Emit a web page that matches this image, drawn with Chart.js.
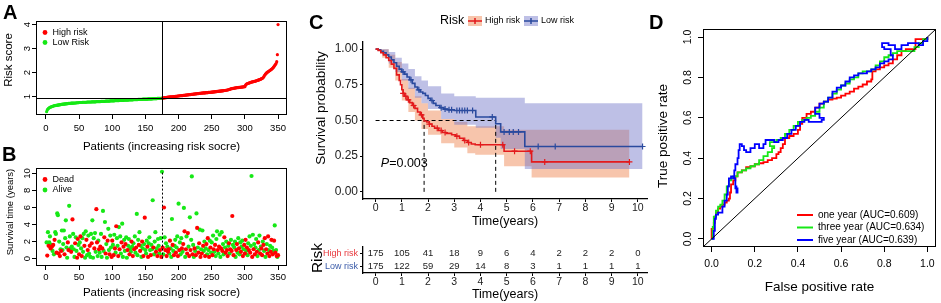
<!DOCTYPE html>
<html>
<head>
<meta charset="utf-8">
<script src="https://cdn.jsdelivr.net/npm/chart.js@4.4.1/dist/chart.umd.min.js"></script>
<style>
html,body{margin:0;padding:0;background:#fff;}
#wrap{position:relative;width:941px;height:303px;overflow:hidden;background:#fff;}
#wrap canvas{position:absolute;}
.pl{position:absolute;font-family:"Liberation Sans",Arial,sans-serif;font-weight:bold;font-size:20px;line-height:20px;color:#000;}
</style>
</head>
<body>
<div id="wrap">
  <canvas id="cA" width="300" height="160" style="left:0px;top:0px;"></canvas>
  <canvas id="cB" width="300" height="163" style="left:0px;top:140px;"></canvas>
  <canvas id="cC" width="360" height="232" style="left:300px;top:0px;"></canvas>
  <canvas id="cT" width="360" height="73" style="left:300px;top:230px;"></canvas>
  <canvas id="cD" width="291" height="303" style="left:650px;top:0px;"></canvas>
  <div class="pl" style="left:3px;top:2px;">A</div>
  <div class="pl" style="left:2px;top:144px;">B</div>
  <div class="pl" style="left:309px;top:12px;">C</div>
  <div class="pl" style="left:649px;top:12px;">D</div>
</div>
<script>
// ================= DATA =================
// Panel A / B
const patientTicks = [0, 50, 100, 150, 200, 250, 300, 350];
const riskScoreTicks = [1, 2, 3, 4];
const survTimeTicks = [0, 2, 4, 6, 8, 10];
const nLowRisk = 175;
const riskCutoff = 0.93;
const riskScore = [
  0.38,0.45,0.49,0.52,0.54,
  0.56,0.57,0.58,0.59,0.60,0.61,0.62,
  0.63,0.63,0.64,0.64,0.65,0.65,0.66,0.66,0.67,0.67,0.68,0.68,0.69,
  0.69,0.69,0.70,0.70,0.70,0.71,0.71,0.71,0.72,0.72,0.72,0.72,0.73,0.73,0.73,0.73,0.74,0.74,0.74,0.74,0.75,0.75,0.75,0.75,0.76,
  0.76,0.76,0.76,0.76,0.77,0.77,0.77,0.77,0.77,0.77,0.77,0.78,0.78,0.78,0.78,0.78,0.78,0.78,0.79,0.79,0.79,0.79,0.79,0.79,0.79,
  0.80,0.80,0.80,0.80,0.80,0.80,0.80,0.81,0.81,0.81,0.81,0.81,0.81,0.81,0.82,0.82,0.82,0.82,0.82,0.82,0.82,0.83,0.83,0.83,0.83,
  0.83,0.83,0.83,0.84,0.84,0.84,0.84,0.84,0.84,0.84,0.85,0.85,0.85,0.85,0.85,0.85,0.85,0.86,0.86,0.86,0.86,0.86,0.86,0.86,
  0.87,0.87,0.87,0.87,0.87,0.87,0.87,0.88,0.88,0.88,0.88,0.88,0.88,0.88,0.89,0.89,0.89,0.89,0.89,0.89,0.89,0.90,0.90,0.90,0.90,0.90,
  0.90,0.90,0.90,0.91,0.91,0.91,0.91,0.91,0.91,0.91,0.92,0.92,0.92,0.92,0.92,0.92,0.92,0.93,0.93,0.93,0.93,0.93,0.93,0.93,
  0.94,0.94,0.95,0.95,0.96,0.96,0.96,0.97,0.97,0.98,0.98,0.98,0.99,0.99,1.00,1.00,1.00,1.01,1.01,1.01,1.02,1.02,1.02,1.03,1.03,1.03,
  1.04,1.04,1.04,1.05,1.05,1.05,1.06,1.06,1.06,1.07,1.07,1.07,1.08,1.08,1.08,1.09,1.09,1.09,1.10,1.10,1.10,1.11,1.11,1.11,1.12,
  1.12,1.12,1.13,1.13,1.13,1.14,1.14,1.14,1.15,1.15,1.15,1.16,1.16,1.16,1.16,1.17,1.17,1.17,1.17,1.18,1.18,1.18,1.18,1.19,1.19,
  1.19,1.20,1.20,1.20,1.21,1.21,1.21,1.22,1.22,1.22,1.23,1.23,1.23,1.24,1.24,1.24,1.25,1.25,1.26,1.26,1.27,1.27,1.28,1.28,1.29,
  1.30,1.31,1.32,1.33,1.34,1.34,1.35,1.35,1.36,1.36,1.37,1.37,1.38,1.38,1.38,1.39,1.39,1.39,1.40,1.40,1.40,1.41,1.41,1.42,1.42,
  1.48,1.52,1.54,1.55,1.56,1.57,1.58,1.59,1.60,1.61,1.62,1.62,1.63,1.64,1.64,1.65,
  1.66,1.67,1.68,1.69,1.70,1.71,1.72,1.73,1.75,1.76,1.78,1.81,1.86,1.90,
  1.94,1.97,2.00,2.02,2.04,2.06,2.08,2.10,2.12,2.14,2.16,2.19,2.22,2.26,2.30,
  2.34,2.38,2.46,2.75,4.00
];
const survTime = [
  1.9,0.35,3.1,1.5,1.9,2.6,1.2,1.6,1.4,0.9,
  1.6,0.5,2.2,3.1,2.9,0.7,5.3,5.1,0.6,2.0,
  0.3,1.1,0.9,3.3,1.0,1.7,3.3,0.5,2.4,4.5,
  1.3,0.1,1.9,1.0,6.2,2.6,1.2,0.8,1.4,4.6,
  2.9,1.1,0.2,1.8,2.5,0.9,0.1,2.3,1.6,0.5,
  1.9,2.6,1.2,0.3,2.4,0.8,2.9,1.5,0.1,3.2,
  2.2,0.4,1.0,2.7,0.6,1.5,0.2,2.9,1.8,4.5,
  0.1,2.4,1.2,3.0,0.8,5.8,1.9,0.3,2.1,1.1,
  0.7,1.4,2.9,0.2,1.2,5.6,0.9,2.5,4.3,0.6,
  1.7,0.1,2.1,3.5,1.0,0.5,2.7,1.3,0.2,2.1,
  1.6,0.4,2.8,1.2,0.7,3.8,2.4,1.5,0.3,3.7,
  1.1,2.6,0.6,1.9,4.1,0.2,1.4,2.2,0.9,1.7,
  2.5,0.1,1.0,1.5,2.3,0.5,1.2,0.8,2.0,1.4,
  0.3,1.8,1.1,2.6,0.7,1.3,5.25,0.4,2.2,1.6,
  3.1,0.9,1.5,0.2,2.0,1.2,0.3,1.7,4.8,1.0,
  0.6,2.1,1.4,0.2,1.8,2.5,1.0,0.4,1.6,1.1,
  6.85,1.3,0.5,2.0,3.1,0.8,1.2,0.3,2.3,1.5,
  0.6,1.0,2.4,0.2,10.2,
  1.3,0.5,6.0,2.5,1.0,1.8,0.3,1.4,0.8,1.1,
  0.6,2.1,1.2,0.2,4.65,1.6,0.9,0.4,1.5,2.2,
  0.7,1.3,2.6,0.3,6.45,1.0,1.9,0.5,2.4,1.2,
  0.8,1.7,5.95,3.2,0.2,1.1,2.6,0.6,3.0,1.4,
  0.3,4.85,1.0,2.2,9.65,0.5,1.6,0.2,1.2,0.9,
  0.4,5.3,3.6,1.3,0.7,1.8,3.4,0.2,1.1,0.6,
  3.3,1.5,0.9,2.0,0.3,1.2,1.7,0.5,2.4,1.0,
  0.2,2.1,1.3,0.7,1.9,0.4,2.7,1.1,0.8,1.6,
  0.3,2.3,3.2,1.0,0.6,1.4,2.8,0.2,1.2,3.1,
  0.9,1.7,0.5,2.5,1.3,0.7,2.0,1.0,0.3,1.5,
  1.8,0.6,1.1,2.2,0.9,5.0,1.6,0.4,1.3,2.0,
  0.2,1.0,1.7,0.7,2.4,1.2,0.5,1.9,0.8,1.4,
  2.1,0.3,1.1,1.6,0.6,2.2,0.9,1.3,0.4,1.8,
  1.0,2.6,0.7,1.5,9.7,0.2,2.8,1.1,1.7,0.5,
  1.3,2.3,0.8,0.3,1.9,1.0,2.7,0.6,1.4,1.2,
  0.4,2.0,1.6,0.9,2.4,0.2,1.1,1.7,0.6,2.6,
  1.0,0.3,1.5,0.8,2.2,1.3,0.5,0.9,2.1,3.9,
  0.7,1.0,0.3,0.2,0.4
];
// 1 = dead, 0 = alive
const survStatus = [
  0,1,0,1,0,0,1,0,1,0, 1,0,1,0,0,1,0,0,1,0, 1,0,1,0,0,0,0,1,0,0, 0,0,1,1,0,0,0,1,0,1,
  0,0,0,1,0,0,1,1,0,1, 0,1,0,1,0,0,0,1,0,0, 1,0,1,0,0,1,0,0,1,0, 0,0,1,0,0,1,1,0,0,1,
  0,1,0,0,1,0,0,1,0,1, 0,0,1,0,0,1,0,0,1,1, 0,1,0,1,0,1,0,0,1,0, 1,0,0,1,0,0,1,0,0,1,
  0,0,1,0,0,1,0,0,1,0, 1,0,1,0,0,1,0,0,0,1, 0,1,0,0,1,0,1,0,1,0, 0,0,1,1,0,0,0,1,0,0,
  0,1,0,0,0,1,0,1,0,0, 0,1,0,1,0,
  1,0,1,0,1,0,1,0,1,1, 0,1,0,0,0,1,0,1,0,0, 1,0,0,1,0,1,0,0,0,1, 0,1,0,1,0,1,0,1,1,0,
  1,0,1,0,0,1,0,0,1,0, 1,0,1,0,1,1,0,1,0,1, 0,1,0,0,1,0,1,0,1,0, 1,0,1,0,0,1,0,1,0,1,
  0,0,0,1,0,1,0,0,1,0, 1,0,0,1,0,1,0,1,1,0, 1,0,1,0,1,1,0,1,0,0, 0,1,1,0,0,1,0,0,1,0,
  0,1,0,1,1,1,0,1,0,0, 1,0,1,0,0,1,0,1,0,1, 0,0,1,0,1,0,0,1,0,1, 1,0,1,0,1,0,1,0,1,1,
  0,1,0,1,1,0,1,0,1,0, 1,0,1,0,1
];

// Panel C
const kmTimeTicks = [0,1,2,3,4,5,6,7,8,9,10];
const survProbTicks = [0, 0.25, 0.5, 0.75, 1];
const highTime = [0,0.1,0.2,0.3,0.4,0.5,0.6,0.7,0.8,0.9,0.95,1.0,1.05,1.1,1.2,1.3,1.4,1.5,1.6,1.7,1.8,1.85,1.95,2.05,2.15,2.25,2.4,2.55,2.7,2.9,3.05,3.2,3.35,3.5,3.65,3.8,4.9,5.95,9.68];
const highSurv = [1,0.99,0.975,0.96,0.94,0.92,0.895,0.865,0.82,0.78,0.75,0.715,0.69,0.67,0.645,0.625,0.605,0.585,0.56,0.54,0.515,0.497,0.49,0.475,0.46,0.446,0.43,0.416,0.41,0.40,0.39,0.376,0.36,0.346,0.335,0.33,0.285,0.21,0.21];
const lowTime = [0,0.1,0.2,0.3,0.4,0.5,0.6,0.7,0.8,0.9,1.0,1.1,1.2,1.3,1.4,1.5,1.6,1.7,1.8,1.9,2.0,2.1,2.2,2.3,2.45,2.6,2.75,3.0,3.82,4.58,4.77,5.69,10.18];
const lowSurv = [1,0.995,0.985,0.975,0.96,0.945,0.925,0.905,0.88,0.86,0.84,0.825,0.805,0.785,0.76,0.735,0.715,0.70,0.69,0.675,0.655,0.64,0.62,0.605,0.59,0.58,0.575,0.57,0.525,0.477,0.42,0.318,0.318];
const highBandTime = [0,0.25,0.5,0.75,1.0,1.25,1.5,1.75,2.0,2.5,3.0,3.5,3.8,4.9,5.95,9.68];
const highBandLo = [1,0.94,0.87,0.78,0.64,0.56,0.50,0.44,0.40,0.34,0.31,0.27,0.26,0.18,0.10,0.10];
const highBandHi = [1,1.0,0.96,0.91,0.79,0.73,0.67,0.62,0.57,0.51,0.49,0.46,0.46,0.435,0.435,0.435];
const lowBandTime = [0,0.25,0.5,0.75,1.0,1.25,1.5,1.75,2.0,2.5,3.0,3.82,4.58,4.77,5.69,10.18];
const lowBandLo = [1,0.96,0.90,0.84,0.78,0.72,0.66,0.62,0.58,0.51,0.47,0.45,0.38,0.30,0.16,0.16];
const lowBandHi = [1,1.0,0.98,0.94,0.90,0.86,0.81,0.78,0.74,0.69,0.67,0.66,0.66,0.66,0.62,0.62];
const highCensorTime = [1.05,1.15,1.25,1.45,1.75,2.05,2.35,2.5,2.65,3.1,3.4,3.55,4.0,4.85,5.3,5.9,6.45,9.68];
const highCensorSurv = [0.69,0.67,0.645,0.605,0.54,0.475,0.446,0.43,0.416,0.39,0.36,0.346,0.33,0.33,0.285,0.285,0.21,0.21];
const lowCensorTime = [1.05,1.35,1.65,2.15,2.5,2.65,2.8,2.9,3.1,3.2,3.3,3.4,3.5,3.7,4.45,4.9,5.1,5.25,5.45,6.2,6.85,10.18];
const lowCensorSurv = [0.84,0.785,0.715,0.64,0.59,0.58,0.575,0.575,0.57,0.57,0.57,0.57,0.57,0.57,0.525,0.42,0.42,0.42,0.42,0.318,0.318,0.318];
const medianHigh = 1.85;
const medianLow = 4.58;
const pValue = '0.003';
const riskGroups = ['High risk', 'Low risk'];
const atRiskHigh = [175,105,41,18,9,6,4,2,2,2,0];
const atRiskLow = [175,122,59,29,14,8,3,1,1,1,1];

// Panel D
const rocTicks = [0, 0.2, 0.4, 0.6, 0.8, 1];
const rocLabels = ['one year (AUC=0.609)', 'three year (AUC=0.634)', 'five year (AUC=0.639)'];
const fprOne = [0,0,0.01,0.015,0.02,0.03,0.04,0.05,0.06,0.07,0.08,0.085,0.09,0.1,0.11,0.12,0.14,0.16,0.18,0.2,0.22,0.24,0.26,0.28,0.3,0.31,0.32,0.33,0.34,0.36,0.38,0.4,0.41,0.42,0.44,0.46,0.48,0.5,0.52,0.54,0.56,0.58,0.6,0.62,0.64,0.66,0.68,0.7,0.72,0.74,0.745,0.76,0.78,0.8,0.82,0.84,0.86,0.88,0.9,0.93,0.945,0.96,0.98,1.0];
const tprOne = [0,0.05,0.08,0.11,0.13,0.15,0.16,0.17,0.18,0.19,0.2,0.23,0.27,0.29,0.31,0.33,0.34,0.355,0.36,0.37,0.375,0.38,0.39,0.40,0.42,0.43,0.45,0.47,0.50,0.51,0.52,0.54,0.57,0.60,0.62,0.63,0.65,0.67,0.68,0.69,0.695,0.70,0.71,0.72,0.73,0.745,0.755,0.765,0.78,0.79,0.83,0.84,0.85,0.86,0.87,0.89,0.91,0.93,0.94,0.94,0.99,0.99,0.99,1.0];
const fprThree = [0,0.005,0.01,0.02,0.03,0.04,0.05,0.06,0.07,0.08,0.09,0.1,0.12,0.14,0.16,0.18,0.2,0.22,0.24,0.26,0.28,0.29,0.27,0.3,0.32,0.34,0.36,0.38,0.4,0.42,0.44,0.46,0.48,0.5,0.52,0.54,0.56,0.58,0.6,0.62,0.64,0.66,0.68,0.7,0.72,0.74,0.76,0.78,0.8,0.82,0.84,0.86,0.88,0.9,0.92,0.94,0.96,0.98,1.0];
const tprThree = [0,0.06,0.11,0.14,0.16,0.17,0.19,0.22,0.26,0.29,0.3,0.31,0.33,0.34,0.35,0.36,0.37,0.39,0.41,0.43,0.45,0.46,0.48,0.49,0.50,0.52,0.54,0.56,0.58,0.59,0.60,0.61,0.63,0.65,0.68,0.70,0.72,0.74,0.76,0.77,0.79,0.80,0.82,0.83,0.83,0.84,0.86,0.88,0.90,0.91,0.92,0.93,0.93,0.93,0.93,0.95,0.97,0.99,1.0];
const fprFive = [0,0.01,0.015,0.02,0.03,0.05,0.06,0.07,0.075,0.08,0.09,0.1,0.11,0.12,0.115,0.11,0.105,0.11,0.12,0.125,0.13,0.14,0.15,0.16,0.18,0.2,0.22,0.24,0.25,0.27,0.29,0.31,0.33,0.35,0.37,0.39,0.41,0.43,0.45,0.47,0.49,0.51,0.52,0.5,0.48,0.5,0.52,0.54,0.56,0.58,0.6,0.62,0.64,0.66,0.68,0.7,0.72,0.74,0.76,0.78,0.8,0.82,0.84,0.83,0.8,0.79,0.82,0.85,0.88,0.91,0.94,0.96,0.98,1.0];
const tprFive = [0,0.04,0.1,0.12,0.13,0.16,0.19,0.22,0.26,0.3,0.31,0.3,0.25,0.23,0.26,0.3,0.34,0.37,0.40,0.44,0.47,0.46,0.44,0.43,0.45,0.47,0.45,0.47,0.49,0.49,0.48,0.49,0.50,0.52,0.54,0.56,0.58,0.59,0.58,0.58,0.58,0.59,0.60,0.62,0.65,0.67,0.68,0.70,0.73,0.75,0.76,0.78,0.80,0.81,0.82,0.82,0.83,0.84,0.85,0.87,0.88,0.89,0.91,0.94,0.95,0.97,0.96,0.94,0.96,0.97,0.97,0.96,0.98,1.0];

// ================= STYLE / HELPERS =================
const FONT = '"Liberation Sans", Arial, Helvetica, sans-serif';
Chart.defaults.font.family = FONT;
Chart.defaults.color = '#000';
const R_RED = '#FF0000', R_GREEN = '#16E816', R_BLUE = '#0000FF';
const KM_RED = '#E31A1C', KM_BLUE = '#2A4A9E';
const KM_RED_BAND = 'rgba(240,140,90,0.5)', KM_BLUE_BAND = 'rgba(110,115,200,0.45)';

const pts = (xs, ys) => xs.map((v, i) => ({x: v, y: ys[i]}));
const setTicks = arr => s => { s.ticks = arr.map(v => ({value: v})); };
const gridTicks = tl => ({display: true, drawOnChartArea: false, drawTicks: true, tickLength: tl, color: '#000', lineWidth: 1});
const baseOpts = () => ({responsive: false, animation: false, devicePixelRatio: 1, events: []});

function framePlugin() {
  return {id: 'frame', afterDraw(ch) {
    const c = ch.ctx, a = ch.chartArea;
    const l = Math.round(a.left), t = Math.round(a.top), r = Math.round(a.right), b = Math.round(a.bottom);
    c.save(); c.strokeStyle = '#000'; c.lineWidth = 1;
    c.strokeRect(l + 0.5, t + 0.5, r - l - 1, b - t - 1);
    c.restore();
  }};
}
function rotYTicksPlugin(ticks, offset, size, fmt) {
  return {id: 'rotY', afterDraw(ch) {
    const c = ch.ctx, s = ch.scales.y;
    c.save(); c.font = size + 'px ' + FONT; c.fillStyle = '#000';
    c.textAlign = 'center'; c.textBaseline = 'middle';
    ticks.forEach(v => {
      const y = s.getPixelForValue(v);
      c.save(); c.translate(ch.chartArea.left - offset, y); c.rotate(-Math.PI / 2);
      c.fillText(fmt(v), 0, 0); c.restore();
    });
    c.restore();
  }};
}
function textsPlugin(items) {
  return {id: 'texts', afterDraw(ch) {
    const c = ch.ctx;
    items.forEach(it => {
      c.save(); c.font = it.font; c.fillStyle = it.color || '#000';
      c.textAlign = it.align || 'center'; c.textBaseline = 'middle';
      c.translate(it.x, it.y); if (it.rot) c.rotate(it.rot);
      c.fillText(it.text, 0, 0); c.restore();
    });
  }};
}
function dotLegendPlugin(items, x, y0, dy, size) {
  return {id: 'dotLegend', afterDraw(ch) {
    const c = ch.ctx;
    c.save(); c.font = size + 'px ' + FONT; c.textAlign = 'left'; c.textBaseline = 'middle';
    items.forEach((it, i) => {
      const y = y0 + i * dy;
      c.fillStyle = it.color; c.beginPath(); c.arc(x, y, 2.4, 0, Math.PI * 2); c.fill();
      c.fillStyle = '#000'; c.fillText(it.label, x + 7.5, y);
    });
    c.restore();
  }};
}
function guideLinesPlugin(opts) {
  return {id: 'guides', afterDatasetsDraw(ch) {
    const c = ch.ctx, a = ch.chartArea, xs = ch.scales.x, ys = ch.scales.y;
    c.save(); c.strokeStyle = '#000'; c.lineWidth = 1;
    if (opts.h != null) {
      const py = Math.round(ys.getPixelForValue(opts.h)) + 0.5;
      c.beginPath(); c.moveTo(a.left, py); c.lineTo(a.right, py); c.stroke();
    }
    if (opts.v != null) {
      const px = Math.round(xs.getPixelForValue(opts.v)) + 0.5;
      const y0 = opts.vFrom != null ? ys.getPixelForValue(opts.vFrom) : a.bottom;
      const y1 = opts.vTo != null ? ys.getPixelForValue(opts.vTo) : a.top;
      if (opts.dash) c.setLineDash(opts.dash);
      c.beginPath(); c.moveTo(px, y0); c.lineTo(px, y1); c.stroke();
    }
    c.restore();
  }};
}

// ================= PANEL A =================
new Chart(document.getElementById('cA'), {
  type: 'scatter',
  data: {datasets: [
    {label: 'High risk', data: riskScore.slice(nLowRisk).map((v, i) => ({x: nLowRisk + i + 1, y: v})),
     backgroundColor: R_RED, borderWidth: 0, pointRadius: 1.6},
    {label: 'Low Risk', data: riskScore.slice(0, nLowRisk).map((v, i) => ({x: i + 1, y: v})),
     backgroundColor: R_GREEN, borderWidth: 0, pointRadius: 1.6}
  ]},
  options: Object.assign(baseOpts(), {
    layout: {padding: {left: 0, top: 21, right: 13, bottom: 0}},
    scales: {
      x: {type: 'linear', min: -15, max: 363.5, afterBuildTicks: setTicks(patientTicks), afterFit: s => { s.height = 45; },
          grid: gridTicks(4), border: {display: false},
          ticks: {autoSkip: false, maxRotation: 0, padding: 3.5, font: {size: 9.5}, color: '#000'},
          title: {display: true, text: 'Patients (increasing risk socre)', font: {size: 11.5}, color: '#000', padding: {top: 0, bottom: 6}}},
      y: {type: 'linear', min: 0.24, max: 4.15, afterBuildTicks: setTicks(riskScoreTicks), afterFit: s => { s.width = 36; },
          grid: gridTicks(4), border: {display: false}, ticks: {display: false}}
    },
    plugins: {legend: {display: false}, tooltip: {enabled: false}}
  }),
  plugins: [framePlugin(), rotYTicksPlugin(riskScoreTicks, 9, 9.5, v => String(v)),
    guideLinesPlugin({h: riskCutoff, v: nLowRisk + 0.5}),
    dotLegendPlugin([{label: 'High risk', color: R_RED}, {label: 'Low Risk', color: R_GREEN}], 45, 32.5, 10, 9),
    textsPlugin([{text: 'Risk score', x: 9, y: 60, rot: -Math.PI / 2, font: '11.5px ' + FONT}])]
});

// ================= PANEL B =================
const deadPts = [], alivePts = [];
survTime.forEach((t, i) => { (survStatus[i] === 1 ? deadPts : alivePts).push({x: i + 1, y: t}); });
new Chart(document.getElementById('cB'), {
  type: 'scatter',
  data: {datasets: [
    {label: 'Dead', data: deadPts, backgroundColor: R_RED, borderWidth: 0, pointRadius: 2.1},
    {label: 'Alive', data: alivePts, backgroundColor: R_GREEN, borderWidth: 0, pointRadius: 2.1}
  ]},
  options: Object.assign(baseOpts(), {
    layout: {padding: {left: 0, top: 28, right: 13, bottom: 0}},
    scales: {
      x: {type: 'linear', min: -15, max: 363.5, afterBuildTicks: setTicks(patientTicks), afterFit: s => { s.height = 37; },
          grid: gridTicks(4), border: {display: false},
          ticks: {autoSkip: false, maxRotation: 0, padding: 1.7, font: {size: 9.5}, color: '#000'},
          title: {display: true, text: 'Patients (increasing risk socre)', font: {size: 11.5}, color: '#000', padding: {top: 0, bottom: 3}}},
      y: {type: 'linear', min: -0.87, max: 10.64, afterBuildTicks: setTicks(survTimeTicks), afterFit: s => { s.width = 36; },
          grid: gridTicks(4), border: {display: false}, ticks: {display: false}}
    },
    plugins: {legend: {display: false}, tooltip: {enabled: false}}
  }),
  plugins: [framePlugin(), rotYTicksPlugin(survTimeTicks, 9, 9.5, v => String(v)),
    guideLinesPlugin({v: nLowRisk + 0.5, vFrom: 0, vTo: Math.max(...survTime), dash: [2, 2]}),
    dotLegendPlugin([{label: 'Dead', color: R_RED}, {label: 'Alive', color: R_GREEN}], 45, 39.5, 10.5, 9),
    textsPlugin([{text: 'Survival time (years)', x: 10, y: 72, rot: -Math.PI / 2, font: '9.5px ' + FONT}])]
});

// ================= PANEL C (KM) =================
const kmLegendPlugin = {id: 'kmLegend', afterDraw(ch) {
  const c = ch.ctx, y = 21;
  c.save(); c.textAlign = 'left'; c.textBaseline = 'middle';
  c.font = '12.5px ' + FONT; c.fillStyle = '#000'; c.fillText('Risk', 140, y);
  [{x: 168, fill: KM_RED_BAND, col: KM_RED, label: riskGroups[0]}, {x: 224, fill: KM_BLUE_BAND, col: KM_BLUE, label: riskGroups[1]}].forEach(it => {
    c.fillStyle = it.fill; c.fillRect(it.x, y - 5, 14, 10);
    c.strokeStyle = it.col; c.lineWidth = 1.5;
    c.beginPath(); c.moveTo(it.x, y); c.lineTo(it.x + 14, y); c.moveTo(it.x + 7, y - 3); c.lineTo(it.x + 7, y + 3); c.stroke();
    c.fillStyle = '#000'; c.font = '9px ' + FONT; c.fillText(it.label, it.x + 17, y);
  });
  c.restore();
}};
const pValuePlugin = {id: 'pval', afterDraw(ch) {
  const c = ch.ctx, x = ch.scales.x.getPixelForValue(0.2), y = ch.scales.y.getPixelForValue(0.2);
  c.save(); c.textAlign = 'left'; c.textBaseline = 'middle'; c.fillStyle = '#000';
  c.font = 'italic 12.5px ' + FONT; c.fillText('P', x, y);
  const w = c.measureText('P').width;
  c.font = '12.5px ' + FONT; c.fillText('=' + pValue, x + w, y);
  c.restore();
}};
const stepLine = (data, color, order) => ({type: 'line', data, stepped: true, borderColor: color, borderWidth: 1.6, pointRadius: 0, fill: false, order});
const bandLine = (data, fill, bg, order) => ({type: 'line', data, stepped: true, borderColor: 'transparent', borderWidth: 0, pointRadius: 0, fill, backgroundColor: bg, order});
const dashLine = data => ({type: 'line', data, borderColor: '#000', borderWidth: 1, borderDash: [4, 3], pointRadius: 0, fill: false, order: 2});
const censor = (data, color) => ({type: 'line', data, showLine: false, pointStyle: 'cross', pointRadius: 3, borderColor: color, borderWidth: 1.2, order: 0});

new Chart(document.getElementById('cC'), {
  type: 'line',
  data: {datasets: [
    censor(pts(highCensorTime, highCensorSurv), KM_RED),
    censor(pts(lowCensorTime, lowCensorSurv), KM_BLUE),
    stepLine(pts(highTime, highSurv), KM_RED, 1),
    stepLine(pts(lowTime, lowSurv), KM_BLUE, 1),
    dashLine([{x: 0, y: 0.5}, {x: medianLow, y: 0.5}]),
    dashLine([{x: medianHigh, y: 0}, {x: medianHigh, y: 0.5}]),
    dashLine([{x: medianLow, y: 0}, {x: medianLow, y: 0.5}]),
    bandLine(pts(lowBandTime, lowBandHi), '+1', KM_BLUE_BAND, 3),
    bandLine(pts(lowBandTime, lowBandLo), false, 'transparent', 3),
    bandLine(pts(highBandTime, highBandHi), '+1', KM_RED_BAND, 4),
    bandLine(pts(highBandTime, highBandLo), false, 'transparent', 4)
  ]},
  options: Object.assign(baseOpts(), {
    layout: {padding: {left: 0, top: 42, right: 13, bottom: 0}},
    scales: {
      x: {type: 'linear', min: -0.48, max: 10.35, afterBuildTicks: setTicks(kmTimeTicks), afterFit: s => { s.height = 33; },
          grid: {display: true, drawOnChartArea: false, drawTicks: true, tickLength: 3, color: '#000'},
          border: {display: true, color: '#000', width: 1.3},
          ticks: {autoSkip: false, maxRotation: 0, padding: 0, font: {size: 10.5}, color: '#222'},
          title: {display: true, text: 'Time(years)', font: {size: 12.5}, color: '#000', padding: {top: 0, bottom: 2.5}}},
      y: {type: 'linear', min: -0.05, max: 1.05, afterBuildTicks: setTicks(survProbTicks), afterFit: s => { s.width = 63; },
          grid: {display: true, drawOnChartArea: false, drawTicks: true, tickLength: 3, color: '#000'},
          border: {display: true, color: '#000', width: 1.3},
          ticks: {padding: 2, font: {size: 12}, color: '#222', callback: v => Number(v).toFixed(2)}}
    },
    plugins: {legend: {display: false}, tooltip: {enabled: false}}
  }),
  plugins: [kmLegendPlugin, pValuePlugin,
    textsPlugin([{text: 'Survival probability', x: 21, y: 108, rot: -Math.PI / 2, font: '13.5px ' + FONT}])]
});

// ================= RISK TABLE =================
const riskTablePlugin = {id: 'riskTable', afterDraw(ch) {
  const c = ch.ctx, xs = ch.scales.x, ys = ch.scales.y;
  c.save(); c.font = '9.5px ' + FONT; c.fillStyle = '#222'; c.textAlign = 'center'; c.textBaseline = 'middle';
  [atRiskHigh, atRiskLow].forEach((row, gi) => {
    const py = ys.getPixelForValue(gi);
    row.forEach((n, ti) => c.fillText(String(n), xs.getPixelForValue(kmTimeTicks[ti]), py));
  });
  c.restore();
}};
new Chart(document.getElementById('cT'), {
  type: 'scatter',
  data: {datasets: []},
  options: Object.assign(baseOpts(), {
    layout: {padding: {left: 0, top: 17, right: 13, bottom: 0}},
    scales: {
      x: {type: 'linear', min: -0.48, max: 10.35, afterBuildTicks: setTicks(kmTimeTicks), afterFit: s => { s.height = 30; },
          grid: {display: true, drawOnChartArea: false, drawTicks: true, tickLength: 3, color: '#000'},
          border: {display: true, color: '#000', width: 1.3},
          ticks: {autoSkip: false, maxRotation: 0, padding: 0, font: {size: 10.5}, color: '#222'},
          title: {display: true, text: 'Time(years)', font: {size: 12.5}, color: '#000', padding: {top: 0, bottom: 0.5}}},
      y: {type: 'category', labels: riskGroups, offset: true, min: 0, max: 1, afterFit: s => { s.width = 63; },
          afterBuildTicks: s => { s.ticks = riskGroups.map((g, i) => ({value: i})); },
          grid: {display: true, drawOnChartArea: false, drawTicks: true, tickLength: 3, color: '#000', offset: false},
          border: {display: true, color: '#000', width: 1.3},
          ticks: {autoSkip: false, padding: 2, font: {size: 9}, color: c => (c.index === 0 ? '#E8383D' : '#3A5BA9')}}
    },
    plugins: {legend: {display: false}, tooltip: {enabled: false}}
  }),
  plugins: [riskTablePlugin,
    textsPlugin([{text: 'Risk', x: 18, y: 28, rot: -Math.PI / 2, font: '15.5px ' + FONT}])]
});

// ================= PANEL D (ROC) =================
const rocLegendPlugin = {id: 'rocLegend', afterDraw(ch) {
  const c = ch.ctx, cols = [R_RED, R_GREEN, R_BLUE];
  c.save(); c.font = '10px ' + FONT; c.textAlign = 'left'; c.textBaseline = 'middle';
  rocLabels.forEach((lab, i) => {
    const y = 215 + i * 12.5;
    c.strokeStyle = cols[i]; c.lineWidth = 2;
    c.beginPath(); c.moveTo(147, y); c.lineTo(163, y); c.stroke();
    c.fillStyle = '#000'; c.fillText(lab, 168, y);
  });
  c.restore();
}};
const rocLine = (xs, ys, color) => ({data: pts(xs, ys), stepped: true, borderColor: color, borderWidth: 1.8, pointRadius: 0, fill: false});
const rocMin = -0.04, rocMax = 1.04;
new Chart(document.getElementById('cD'), {
  type: 'line',
  data: {datasets: [
    {data: [{x: rocMin, y: rocMin}, {x: rocMax, y: rocMax}], borderColor: '#000', borderWidth: 1, pointRadius: 0, fill: false},
    rocLine(fprFive, tprFive, R_BLUE),
    rocLine(fprThree, tprThree, R_GREEN),
    rocLine(fprOne, tprOne, R_RED)
  ]},
  options: Object.assign(baseOpts(), {
    layout: {padding: {left: 0, top: 29, right: 5, bottom: 0}},
    scales: {
      x: {type: 'linear', min: rocMin, max: rocMax, afterBuildTicks: setTicks(rocTicks), afterFit: s => { s.height = 56; },
          grid: gridTicks(5), border: {display: false},
          ticks: {autoSkip: false, maxRotation: 0, padding: 5.4, font: {size: 10.5}, color: '#000', callback: v => Number(v).toFixed(1)},
          title: {display: true, text: 'False positive rate', font: {size: 13.5}, color: '#000', padding: {top: 0, bottom: 8}}},
      y: {type: 'linear', min: rocMin, max: rocMax, afterBuildTicks: setTicks(rocTicks), afterFit: s => { s.width = 53; },
          grid: gridTicks(5), border: {display: false}, ticks: {display: false}}
    },
    plugins: {legend: {display: false}, tooltip: {enabled: false}}
  }),
  plugins: [framePlugin(), rotYTicksPlugin(rocTicks, 15, 10.5, v => Number(v).toFixed(1)), rocLegendPlugin,
    textsPlugin([{text: 'True positive rate', x: 13.5, y: 136, rot: -Math.PI / 2, font: '13.5px ' + FONT}])]
});
</script>
</body>
</html>
